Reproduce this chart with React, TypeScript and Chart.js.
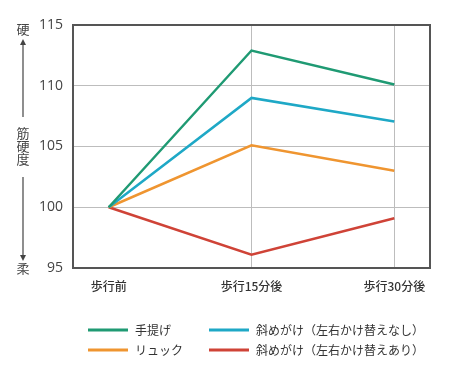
import React, { useEffect, useRef } from "react";
import { Chart, registerables } from "chart.js";

Chart.register(...registerables);

const categories = ["歩行前", "歩行15分後", "歩行30分後"];
const seriesNames = [
  "手提げ",
  "斜めがけ（左右かけ替えなし）",
  "リュック",
  "斜めがけ（左右かけ替えあり）",
];
const teSage = [100, 112.9, 110.1];
const nanameNashi = [100, 109.0, 107.05];
const ryukku = [100, 105.1, 103.0];
const nanameAri = [100, 96.1, 99.1];
const colors = ["#1f9a73", "#1ea8c6", "#ef9530", "#cf4337"];
const yTicks = [95, 100, 105, 110, 115];

const FONT_JP = '"Noto Sans CJK JP", "Noto Sans", sans-serif';
const FONT_NUM = '"Open Sans", "Noto Sans", sans-serif';

const decor = {
  id: "decor",
  afterDatasetsDraw(chart: any) {
    const { ctx, chartArea } = chart;
    const { left, top, right, bottom } = chartArea;
    ctx.save();
    // frame
    ctx.strokeStyle = "#555";
    ctx.lineWidth = 2;
    ctx.strokeRect(left, top, right - left, bottom - top);

    // left annotation
    ctx.fillStyle = "#444";
    ctx.strokeStyle = "#444";
    ctx.lineWidth = 1.2;
    ctx.font = `13px ${FONT_JP}`;
    ctx.textAlign = "center";
    ctx.textBaseline = "middle";
    const ax = 23;
    ctx.fillText("硬", ax, 29);
    ctx.fillText("筋", ax, 133);
    ctx.fillText("硬", ax, 146);
    ctx.fillText("度", ax, 159);
    ctx.fillText("柔", ax, 268);
    // up arrow
    ctx.beginPath();
    ctx.moveTo(ax, 117);
    ctx.lineTo(ax, 42);
    ctx.stroke();
    ctx.beginPath();
    ctx.moveTo(ax, 39);
    ctx.lineTo(ax - 3, 45);
    ctx.lineTo(ax + 3, 45);
    ctx.closePath();
    ctx.fill();
    // down arrow
    ctx.beginPath();
    ctx.moveTo(ax, 177);
    ctx.lineTo(ax, 257);
    ctx.stroke();
    ctx.beginPath();
    ctx.moveTo(ax, 261);
    ctx.lineTo(ax - 3, 255);
    ctx.lineTo(ax + 3, 255);
    ctx.closePath();
    ctx.fill();

    // legend
    const items = [
      { name: seriesNames[0], color: colors[0], x: 88, y: 330 },
      { name: seriesNames[1], color: colors[1], x: 209, y: 330 },
      { name: seriesNames[2], color: colors[2], x: 88, y: 350 },
      { name: seriesNames[3], color: colors[3], x: 209, y: 350 },
    ];
    ctx.font = `12px ${FONT_JP}`;
    ctx.textAlign = "left";
    ctx.textBaseline = "middle";
    items.forEach((it) => {
      ctx.strokeStyle = it.color;
      ctx.lineWidth = 3;
      ctx.beginPath();
      ctx.moveTo(it.x, it.y);
      ctx.lineTo(it.x + 40, it.y);
      ctx.stroke();
      ctx.fillStyle = "#333";
      ctx.fillText(it.name, it.x + 47, it.y);
    });
    ctx.restore();
  },
};

export default function App() {
  const ref = useRef<HTMLCanvasElement>(null);
  useEffect(() => {
    const series = [teSage, nanameNashi, ryukku, nanameAri];
    const chart = new Chart(ref.current!, {
      type: "line",
      data: {
        datasets: series.map((s, i) => ({
          label: seriesNames[i],
          data: s.map((v, j) => ({ x: j, y: v })),
          borderColor: colors[i],
          backgroundColor: colors[i],
          borderWidth: 2.5,
          pointRadius: 0,
          tension: 0,
        })),
      },
      options: {
        animation: false,
        responsive: false,
        layout: { padding: { left: 0, top: 25, right: 20, bottom: 77 } },
        plugins: { legend: { display: false }, tooltip: { enabled: false } },
        scales: {
          x: {
            type: "linear",
            min: -0.25,
            max: 2.25,
            afterBuildTicks: (s: any) => {
              s.ticks = categories.map((_, i) => ({ value: i }));
            },
            afterFit: (s: any) => {
              s.height = 35;
            },
            ticks: {
              callback: (v: any) => categories[v] ?? "",
              color: "#333",
              font: { family: FONT_JP, size: 12, weight: "500" },
              padding: 11,
              maxRotation: 0,
              autoSkip: false,
            },
            grid: {
              color: (c: any) => (c.tick && c.tick.value === 0 ? "rgba(0,0,0,0)" : "#bdbdbd"),
              lineWidth: 1,
              drawTicks: false,
            },
            border: { display: false },
          },
          y: {
            min: 95,
            max: 115,
            afterBuildTicks: (s: any) => {
              s.ticks = yTicks.map((v) => ({ value: v }));
            },
            afterFit: (s: any) => {
              s.width = 73;
            },
            ticks: {
              color: "#444",
              font: { family: FONT_NUM, size: 14 },
              padding: 10,
            },
            grid: { color: "#bdbdbd", lineWidth: 1, drawTicks: false },
            border: { display: false },
          },
        },
      },
      plugins: [decor],
    });
    return () => chart.destroy();
  }, []);
  return (
    <div style={{ position: "absolute", left: 0, top: 0, width: 450, height: 380, background: "#fff" }}>
      <canvas ref={ref} width={450} height={380} />
    </div>
  );
}
